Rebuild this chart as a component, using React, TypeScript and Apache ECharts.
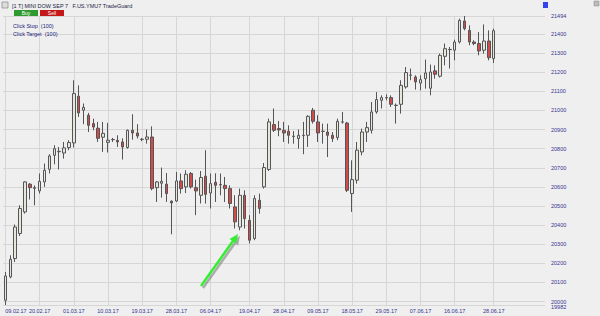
import React, { useEffect, useRef } from 'react';
import * as echarts from 'echarts';

const dates = [
  '09.02.17','10.02.17','13.02.17','14.02.17','15.02.17','16.02.17','17.02.17','20.02.17','21.02.17','22.02.17',
  '23.02.17','24.02.17','27.02.17','28.02.17','01.03.17','02.03.17','03.03.17','06.03.17','07.03.17','08.03.17',
  '09.03.17','10.03.17','12.03.17','13.03.17','14.03.17','15.03.17','16.03.17','17.03.17','19.03.17','20.03.17',
  '21.03.17','22.03.17','23.03.17','24.03.17','27.03.17','28.03.17','29.03.17','30.03.17','31.03.17','03.04.17',
  '04.04.17','05.04.17','06.04.17','07.04.17','10.04.17','11.04.17','12.04.17','13.04.17','17.04.17','18.04.17',
  '19.04.17','20.04.17','21.04.17','24.04.17','25.04.17','26.04.17','27.04.17','28.04.17','01.05.17','02.05.17',
  '03.05.17','04.05.17','05.05.17','08.05.17','09.05.17','10.05.17','11.05.17','12.05.17','15.05.17','16.05.17',
  '17.05.17','18.05.17','19.05.17','22.05.17','23.05.17','24.05.17','25.05.17','26.05.17','29.05.17','30.05.17',
  '31.05.17','01.06.17','02.06.17','05.06.17','06.06.17','07.06.17','08.06.17','09.06.17','12.06.17','13.06.17',
  '14.06.17','15.06.17','16.06.17','19.06.17','20.06.17','21.06.17','22.06.17','23.06.17','26.06.17','27.06.17',
  '28.06.17',
];

const opens = [
  20007,20129,20225,20356,20469,20614,20592,20579,20626,20692,
  20765,20784,20777,20806,20830,21074,21001,20975,20931,20907,
  20860,20833,20848,20844,20835,20806,20896,20882,20848,20849,
  20861,20596,20619,20614,20525,20526,20631,20600,20670,20596,
  20556,20656,20568,20624,20612,20608,20591,20495,20390,20556,
  20425,20330,20530,20600,20691,20926,20905,20896,20891,20865,
  20853,20868,20870,21001,20940,20890,20887,20870,20858,20939,
  20934,20565,20635,20783,20887,20896,20992,21053,21067,21067,
  21027,21032,21123,21184,21175,21143,21166,21116,21207,21179,
  21283,21318,21315,21358,21468,21419,21358,21350,21315,21363,
  21271,
];

const closes = [
  20134,20221,20390,20487,20626,20596,20596,20629,20687,20762,
  20800,20786,20804,20832,21088,20987,21016,20922,20913,20854,
  20880,20844,20847,20835,20809,20896,20882,20866,20849,20861,
  20591,20626,20629,20565,20516,20631,20591,20666,20600,20579,
  20649,20561,20617,20608,20610,20591,20513,20417,20556,20434,
  20321,20539,20487,20701,20940,20896,20898,20882,20870,20864,
  20870,20870,20969,20943,20882,20891,20870,20853,20943,20940,
  20582,20638,20792,20887,20910,20992,21057,21067,21066,21032,
  21026,21131,21198,21185,21149,21161,21196,21201,21189,21288,
  21323,21319,21358,21471,21428,21358,21350,21311,21363,21276,
  21417,
];

const highs = [
  20155,20242,20403,20504,20629,20620,20608,20670,20722,20771,
  20818,20809,20835,20844,21158,21131,21036,20987,20957,20940,
  20940,20935,20856,20870,20854,20900,20980,20928,20856,20900,
  20917,20631,20701,20673,20530,20678,20670,20687,20678,20638,
  20683,20792,20670,20671,20670,20652,20608,20556,20591,20582,
  20452,20556,20565,20725,20957,21010,20945,20940,20922,20892,
  20900,20940,20975,21013,20975,20931,20931,20887,20957,20992,
  20940,20739,20835,20905,20940,21044,21096,21079,21084,21079,
  21036,21158,21227,21219,21184,21184,21266,21240,21236,21297,
  21350,21332,21370,21480,21494,21445,21367,21410,21450,21419,
  21428,
];

const lows = [
  19982,20122,20207,20343,20460,20534,20504,20565,20600,20670,
  20718,20691,20748,20792,20806,20966,20928,20887,20896,20835,
  20783,20780,20835,20809,20743,20800,20847,20853,20839,20826,
  20582,20521,20544,20521,20352,20521,20565,20568,20591,20452,
  20513,20513,20487,20521,20556,20521,20487,20382,20373,20382,
  20304,20321,20460,20591,20683,20887,20865,20835,20826,20826,
  20800,20771,20809,20931,20835,20826,20756,20835,20844,20931,
  20573,20469,20617,20765,20835,20879,20983,21010,21053,21018,
  20931,20983,21114,21158,21109,21105,21114,21079,21166,21172,
  21236,21219,21262,21350,21419,21341,21341,21288,21297,21262,
  21248,
];

const tickLabels = [
  '09.02.17','20.02.17','01.03.17','10.03.17','19.03.17','28.03.17','06.04.17','19.04.17',
  '28.04.17','09.05.17','18.05.17','29.05.17','07.06.17','16.06.17','28.06.17',
];

const yMin = 19982;
const yMax = 21494;
const yStep = 100;
const lastPrice = 21417;
const titleText = '[1 T] MINI DOW SEP 7   F.US.YMU7 TradeGuard';
const stopText = 'Click Stop  (100)';
const targetText = 'Click Target  (100)';

const FONT = 'Liberation Sans, Arial, sans-serif';
const LABEL_COLOR = '#33338f';

export default function App() {
  const ref = useRef<HTMLDivElement>(null);
  useEffect(() => {
    if (!ref.current) return;
    const chart = echarts.init(ref.current, null, { renderer: 'svg' });
    const ohlc = dates.map((_, i) => [opens[i], closes[i], lows[i], highs[i]]);
    const showTick = (_i: number, v: any) => tickLabels.includes(v);
    const hiddenLine = { opacity: 0 };
    const option: any = {
      animation: false,
      backgroundColor: '#efefef',
      textStyle: { fontFamily: FONT },
      grid: { left: 3, right: 55, top: 16, bottom: 11 },
      xAxis: {
        type: 'category',
        data: dates,
        boundaryGap: true,
        max: dates.length - 1 + 10,
        axisLine: { show: false },
        axisTick: { show: false },
        axisLabel: {
          interval: showTick,
          color: LABEL_COLOR,
          fontSize: 5.5,
          fontFamily: FONT,
          margin: 3,
          formatter: (v: string, i: number) => (i === 0 ? `{f|${v}}` : v),
          rich: { f: { padding: [0, 0, 0, 21], color: LABEL_COLOR, fontSize: 5.5, fontFamily: FONT } },
        },
        splitLine: {
          show: true,
          interval: showTick,
          alignWithLabel: true,
          lineStyle: { color: '#d6d6d6', width: 1 },
        },
      },
      yAxis: {
        type: 'value',
        position: 'right',
        min: yMin,
        max: yMax,
        splitNumber: 15,
        minInterval: yStep,
        maxInterval: yStep,
        scale: true,
        axisLine: { show: false },
        axisTick: { show: false },
        axisLabel: {
          color: LABEL_COLOR,
          fontSize: 5.5,
          fontFamily: FONT,
          margin: 6,
          showMinLabel: false,
          showMaxLabel: true,
          formatter: (v: number) => String(v),
        },
        splitLine: { show: true, lineStyle: { color: '#d6d6d6', width: 1 } },
      },
      series: [
        {
          type: 'candlestick',
          data: ohlc,
          barWidth: 3,
          itemStyle: {
            color: '#e6e6dc',
            color0: '#d24a4a',
            borderColor: '#555555',
            borderColor0: '#555555',
            borderWidth: 1,
          },
          markLine: {
            silent: true,
            symbol: 'none',
            animation: false,
            lineStyle: hiddenLine,
            data: [
              {
                yAxis: lastPrice,
                lineStyle: hiddenLine,
                label: {
                  show: true,
                  position: 'end',
                  distance: 5,
                  formatter: String(lastPrice),
                  backgroundColor: '#ffffb8',
                  borderColor: '#999999',
                  borderWidth: 0.5,
                  padding: [1, 2, 1, 2],
                  color: '#333333',
                  fontSize: 5.5,
                  fontFamily: FONT,
                },
              },
            ],
          },
        },
      ],
    };
    chart.setOption(option);
    const minPt = chart.convertToPixel({ gridIndex: 0 }, [0, yMin]) as number[];
    const gridRight = 600 - 55;
    chart.setOption({
      graphic: [
        { type: 'rect', shape: { x: 2, y: 2, width: 6, height: 6 }, style: { fill: '#dddddd', stroke: '#888888', lineWidth: 0.7 } },
        { type: 'text', x: 12, y: 5.5, style: { text: titleText, fontSize: 5.5, fontFamily: FONT, fill: '#222244', verticalAlign: 'middle' } },
        { type: 'rect', shape: { x: 14, y: 10, width: 24, height: 6 }, style: { fill: '#2f9a2f' } },
        { type: 'text', x: 26, y: 13, style: { text: 'Buy', fontSize: 5, fontFamily: FONT, fill: '#ffffff', align: 'center', verticalAlign: 'middle' } },
        { type: 'rect', shape: { x: 40, y: 10, width: 24, height: 6 }, style: { fill: '#c41818' } },
        { type: 'text', x: 52, y: 13, style: { text: 'Sell', fontSize: 5, fontFamily: FONT, fill: '#ffffff', align: 'center', verticalAlign: 'middle' } },
        { type: 'text', x: 13, y: 26, style: { text: stopText, fontSize: 5.5, fontFamily: FONT, fill: '#22227a', verticalAlign: 'middle' } },
        { type: 'text', x: 13, y: 34, style: { text: targetText, fontSize: 5.5, fontFamily: FONT, fill: '#22227a', verticalAlign: 'middle' } },
        // min price label of the right axis
        { type: 'text', x: gridRight + 6, y: minPt[1] + 2, style: { text: String(yMin), fontSize: 5.5, fontFamily: FONT, fill: LABEL_COLOR, verticalAlign: 'middle' } },
        { type: 'rect', shape: { x: 543, y: 2, width: 5, height: 6 }, style: { fill: '#3344ee' } },
        { type: 'rect', shape: { x: 594, y: 1, width: 5, height: 5 }, style: { fill: '#bbbbbb', stroke: '#888888', lineWidth: 0.5 } },
        // arrow shadow
        { type: 'line', shape: { x1: 203, y1: 288, x2: 234.8, y2: 243.3 }, style: { stroke: 'rgba(90,90,90,0.45)', lineWidth: 2.5 } },
        { type: 'polygon', shape: { points: [[240, 236], [238.1, 245.6], [231.5, 241]] }, style: { fill: 'rgba(90,90,90,0.45)' } },
        // arrow
        { type: 'line', shape: { x1: 201, y1: 286, x2: 232.8, y2: 241.3 }, style: { stroke: '#33ee33', lineWidth: 2.5 } },
        { type: 'polygon', shape: { points: [[238, 234], [236.1, 243.6], [229.5, 239]] }, style: { fill: '#33ee33' } },
      ],
    });
    return () => chart.dispose();
  }, []);
  return <div ref={ref} style={{ position: 'fixed', left: 0, top: 0, width: 600, height: 316 }} />;
}
